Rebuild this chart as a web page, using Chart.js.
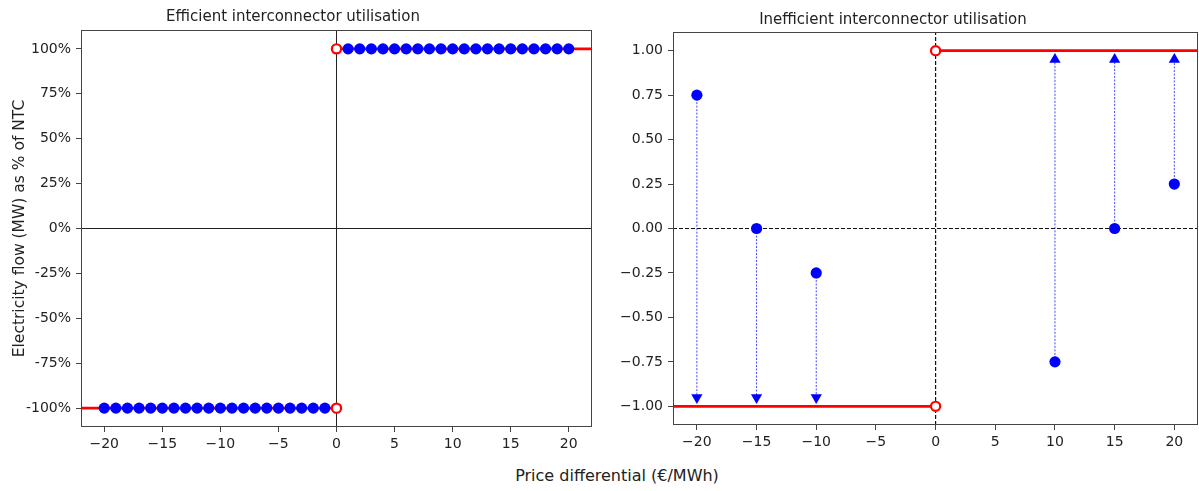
<!DOCTYPE html>
<html>
<head>
<meta charset="utf-8">
<script src="https://cdn.jsdelivr.net/npm/chart.js@4/dist/chart.umd.min.js"></script>
<style>
  body { margin: 0; background: #fff; width: 1199px; height: 491px; position: relative; overflow: hidden; }
  canvas { position: absolute; top: 0; }
  .lbl { position: absolute; width: 400px; height: 20px; line-height: 20px; text-align: center;
         font-family: "DejaVu Sans"; color: #222; white-space: nowrap; }
  .ttl { font-size: 15px; }
  #xlabel { top: 466px; left: 417px; font-size: 16px; }
</style>
</head>
<body>
<canvas id="effChart" width="600" height="460" style="left:0"></canvas>
<canvas id="ineffChart" width="605" height="460" style="left:600px"></canvas>
<div class="lbl ttl" style="left:93px;top:6px">Efficient interconnector utilisation</div>
<div class="lbl ttl" style="left:693px;top:9px">Inefficient interconnector utilisation</div>
<div class="lbl" id="xlabel">Price differential (€/MWh)</div>
<script>
  // axes
  const xTicks = [-20, -15, -10, -5, 0, 5, 10, 15, 20];
  const yTicks = [-1, -0.75, -0.5, -0.25, 0, 0.25, 0.5, 0.75, 1];
  const xLimits = [-22, 22];
  const yLimits = [-1.105, 1.105];
  const capLevels = [-1, 1];

  // efficient utilisation: full import for negative differential, full export for positive
  const effNegX = [-20, -19, -18, -17, -16, -15, -14, -13, -12, -11, -10, -9, -8, -7, -6, -5, -4, -3, -2, -1];
  const effNegY = [-1, -1, -1, -1, -1, -1, -1, -1, -1, -1, -1, -1, -1, -1, -1, -1, -1, -1, -1, -1];
  const effPosX = [1, 2, 3, 4, 5, 6, 7, 8, 9, 10, 11, 12, 13, 14, 15, 16, 17, 18, 19, 20];
  const effPosY = [1, 1, 1, 1, 1, 1, 1, 1, 1, 1, 1, 1, 1, 1, 1, 1, 1, 1, 1, 1];

  // inefficient utilisation: observed flow and where it should be
  const ineffX = [-20, -15, -10, 10, 15, 20];
  const ineffFlow = [0.75, 0, -0.25, -0.75, 0, 0.25];
  const ineffTarget = [-0.95, -0.95, -0.95, 0.95, 0.95, 0.95];

  const FONT = "DejaVu Sans";
  const TEXT = "#222";
  const SPINE = "#444";
  const minus = v => String(v).replace("-", "\u2212");

  const toPts = (xs, ys) => xs.map((x, i) => ({ x, y: ys[i] }));

  const frame = {
    id: "frame",
    afterDatasetsDraw(chart) {
      const a = chart.chartArea, ctx = chart.ctx;
      ctx.save();
      ctx.strokeStyle = SPINE;
      ctx.lineWidth = 1;
      ctx.strokeRect(Math.round(a.left) + 0.5, Math.round(a.top) + 0.5,
        Math.round(a.right - a.left) - 1, Math.round(a.bottom - a.top) - 1);
      ctx.restore();
    }
  };

  function capLines() {
    // red limit lines: -1 left of zero, +1 right of zero
    return [
      { data: [{ x: xLimits[0], y: capLevels[0] }, { x: 0, y: capLevels[0] }] },
      { data: [{ x: 0, y: capLevels[1] }, { x: xLimits[1], y: capLevels[1] }] }
    ].map(d => ({ ...d, showLine: true, borderColor: "#ff0000", borderWidth: 2.6, pointRadius: 0, order: 5 }));
  }

  function zeroLines(dash, color, width) {
    return [
      { data: [{ x: 0, y: yLimits[0] }, { x: 0, y: yLimits[1] }] },
      { data: [{ x: xLimits[0], y: 0 }, { x: xLimits[1], y: 0 }] }
    ].map(d => ({ ...d, showLine: true, borderColor: color, borderWidth: width, borderDash: dash, pointRadius: 0, order: 6 }));
  }

  function openCircles() {
    return {
      data: toPts([0, 0], capLevels),
      pointRadius: 4.6, pointBorderWidth: 2.2, pointBorderColor: "#ff0000",
      pointBackgroundColor: "#ffffff", order: 1
    };
  }

  function blueDots(pts) {
    return { data: pts, pointRadius: 5.6, pointBorderWidth: 0, pointBackgroundColor: "#0000ff", order: 2 };
  }

  function makeOptions(cfg) {
    return {
      animation: false,
      responsive: false,
      layout: { padding: { top: cfg.padTop, left: 0, bottom: 0, right: cfg.padRight } },
      plugins: {
        legend: { display: false },
        tooltip: { enabled: false },
        title: { display: false }
      },
      scales: {
        x: {
          type: "linear", min: xLimits[0], max: xLimits[1],
          afterBuildTicks: s => { s.ticks = xTicks.map(v => ({ value: v })); },
          afterFit: s => { s.height = cfg.xHeight; s.paddingLeft = 0; s.paddingRight = 0; },
          border: { display: false },
          grid: { drawOnChartArea: false, drawTicks: true, tickLength: 5, color: SPINE },
          ticks: { color: TEXT, padding: 4, maxRotation: 0, font: { family: FONT, size: 14 }, callback: v => minus(v) }
        },
        y: {
          type: "linear", min: yLimits[0], max: yLimits[1],
          afterBuildTicks: s => { s.ticks = yTicks.map(v => ({ value: v })); },
          afterFit: s => { s.width = cfg.yWidth; s.paddingTop = 0; s.paddingBottom = 0; },
          border: { display: false },
          grid: { drawOnChartArea: false, drawTicks: true, tickLength: 5, color: SPINE },
          ticks: { color: TEXT, padding: 5, font: { family: FONT, size: 14 }, callback: cfg.yFmt },
          title: cfg.yTitle ? {
            display: true, text: cfg.yTitle, color: TEXT,
            font: { family: FONT, size: 15.5 }, padding: { top: 11, bottom: 0 }
          } : { display: false }
        }
      }
    };
  }

  // left panel
  new Chart(document.getElementById("effChart"), {
    type: "scatter",
    data: {
      datasets: [
        ...zeroLines([], "#222", 1),
        ...capLines(),
        blueDots(toPts(effNegX, effNegY).concat(toPts(effPosX, effPosY))),
        openCircles()
      ]
    },
    options: makeOptions({
      padTop: 30, padRight: 8, xHeight: 33, yWidth: 81,
      yFmt: v => Math.round(v * 100) + "%",
      yTitle: "Electricity flow (MW) as % of NTC"
    }),
    plugins: [frame]
  });

  // right panel (canvas is a few px wider than the window; Chart.js keeps a small right gap)
  const shafts = ineffX.map((x, i) => ({
    data: [{ x, y: ineffFlow[i] }, { x, y: ineffTarget[i] }],
    showLine: true, borderColor: "rgba(40,40,255,0.85)", borderWidth: 1, borderDash: [2, 1.5],
    pointRadius: 0, order: 4
  }));

  new Chart(document.getElementById("ineffChart"), {
    type: "scatter",
    data: {
      datasets: [
        ...zeroLines([4, 2], "#111", 1.2),
        ...capLines(),
        ...shafts,
        {
          data: toPts(ineffX, ineffTarget),
          pointStyle: "triangle",
          pointRotation: ineffTarget.map(v => (v < 0 ? 180 : 0)),
          pointRadius: 6.5, pointBorderWidth: 0, pointBackgroundColor: "#0000ff", order: 3
        },
        blueDots(toPts(ineffX, ineffFlow)),
        openCircles()
      ]
    },
    options: makeOptions({
      padTop: 32, padRight: 1, xHeight: 35, yWidth: 73,
      yFmt: v => minus(v.toFixed(2)),
      yTitle: null
    }),
    plugins: [frame]
  });
</script>
</body>
</html>
